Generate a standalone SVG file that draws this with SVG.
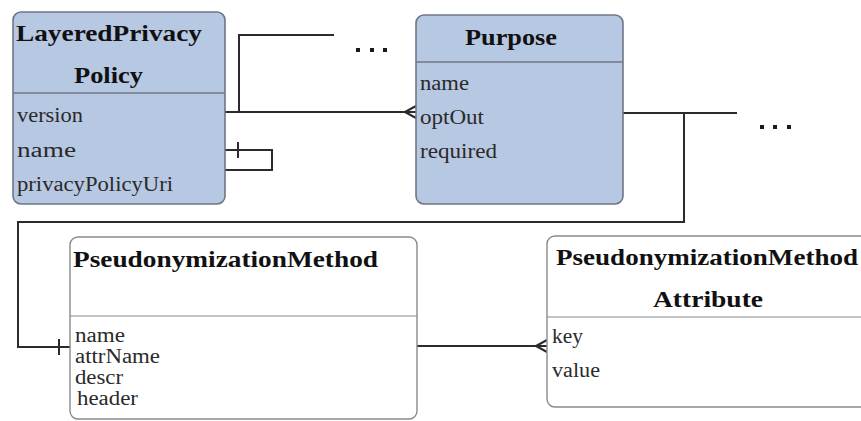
<svg xmlns="http://www.w3.org/2000/svg" width="861" height="421" viewBox="0 0 861 421">
  <style>
    .entity-blue { fill: #b7c8e3; stroke: #6f7785; stroke-width: 1.6; }
    .entity-white { fill: #ffffff; stroke: #8a8a8a; stroke-width: 1.4; }
    .divider-blue { stroke: #6f7785; stroke-width: 1.4; }
    .divider-white { stroke: #8a8a8a; stroke-width: 1.2; }
    .title { font-family: "Liberation Serif", "Times New Roman", serif; font-weight: bold; font-size: 22.5px; fill: #111111; }
    .attr { font-family: "Liberation Serif", "Times New Roman", serif; font-size: 20px; fill: #2a2a2a; }
    .link { fill: none; stroke: #2b2b2b; stroke-width: 2; }
    .dot { fill: #1a1a1a; }
  </style>

  <!-- connectors -->
  <g id="connectors">
    <!-- LayeredPrivacyPolicy to Purpose (many) -->
    <polyline class="link" points="225,112 416,112"/>
    <polyline class="link" points="405,112 416,106"/>
    <polyline class="link" points="405,112 416,118"/>
    <!-- branch towards elided entities -->
    <polyline class="link" points="239,112 239,35 334,35"/>
    <!-- self reference on LayeredPrivacyPolicy -->
    <polyline class="link" points="225,150 272,150 272,170 225,170"/>
    <line class="link" x1="238" y1="142" x2="238" y2="158"/>
    <!-- Purpose to PseudonymizationMethod (one) -->
    <polyline class="link" points="623,113 737,113"/>
    <polyline class="link" points="684,113 684,222 18,222 18,347 70,347"/>
    <line class="link" x1="59" y1="339" x2="59" y2="355"/>
    <!-- PseudonymizationMethod to Attribute (many) -->
    <polyline class="link" points="417,346 547,346"/>
    <polyline class="link" points="536,346 547,340"/>
    <polyline class="link" points="536,346 547,352"/>
    <!-- ellipsis marks -->
    <rect class="dot" x="356" y="48" width="4" height="4"/>
    <rect class="dot" x="370" y="48" width="4" height="4"/>
    <rect class="dot" x="383" y="48" width="4" height="4"/>
    <rect class="dot" x="760" y="125" width="4" height="4"/>
    <rect class="dot" x="773" y="125" width="4" height="4"/>
    <rect class="dot" x="787" y="125" width="4" height="4"/>
  </g>

  <!-- LayeredPrivacyPolicy -->
  <g id="layered-privacy-policy">
    <rect class="entity-blue" x="13" y="12" width="212" height="192" rx="8"/>
    <line class="divider-blue" x1="13" y1="93" x2="225" y2="93"/>
    <text class="title" x="16" y="41" textLength="186" lengthAdjust="spacingAndGlyphs">LayeredPrivacy</text>
    <text class="title" x="74" y="83" textLength="69" lengthAdjust="spacingAndGlyphs">Policy</text>
    <text class="attr" x="17" y="122" textLength="66" lengthAdjust="spacingAndGlyphs">version</text>
    <text class="attr" x="17" y="157" textLength="59" lengthAdjust="spacingAndGlyphs">name</text>
    <text class="attr" x="17" y="191" textLength="156" lengthAdjust="spacingAndGlyphs">privacyPolicyUri</text>
  </g>

  <!-- Purpose -->
  <g id="purpose">
    <rect class="entity-blue" x="416" y="15" width="207" height="189" rx="8"/>
    <line class="divider-blue" x1="416" y1="62" x2="623" y2="62"/>
    <text class="title" x="465" y="45" textLength="92" lengthAdjust="spacingAndGlyphs">Purpose</text>
    <text class="attr" x="420" y="90" textLength="49" lengthAdjust="spacingAndGlyphs">name</text>
    <text class="attr" x="420" y="124" textLength="64" lengthAdjust="spacingAndGlyphs">optOut</text>
    <text class="attr" x="420" y="158" textLength="77" lengthAdjust="spacingAndGlyphs">required</text>
  </g>

  <!-- PseudonymizationMethod -->
  <g id="pseudonymization-method">
    <rect class="entity-white" x="70" y="237" width="347" height="182" rx="8"/>
    <line class="divider-white" x1="70" y1="316" x2="417" y2="316"/>
    <text class="title" x="73" y="267" textLength="305" lengthAdjust="spacingAndGlyphs">PseudonymizationMethod</text>
    <text class="attr" x="75" y="342" textLength="50" lengthAdjust="spacingAndGlyphs">name</text>
    <text class="attr" x="75" y="363" textLength="85" lengthAdjust="spacingAndGlyphs">attrName</text>
    <text class="attr" x="75" y="384" textLength="48" lengthAdjust="spacingAndGlyphs">descr</text>
    <text class="attr" x="77" y="405" textLength="61" lengthAdjust="spacingAndGlyphs">header</text>
  </g>

  <!-- PseudonymizationMethodAttribute -->
  <g id="pseudonymization-method-attribute">
    <rect class="entity-white" x="547" y="236" width="330" height="171" rx="8"/>
    <line class="divider-white" x1="547" y1="317" x2="861" y2="317"/>
    <text class="title" x="556" y="265" textLength="302" lengthAdjust="spacingAndGlyphs">PseudonymizationMethod</text>
    <text class="title" x="653" y="307" textLength="110" lengthAdjust="spacingAndGlyphs">Attribute</text>
    <text class="attr" x="552" y="343" textLength="31" lengthAdjust="spacingAndGlyphs">key</text>
    <text class="attr" x="552" y="377" textLength="48" lengthAdjust="spacingAndGlyphs">value</text>
  </g>
</svg>
